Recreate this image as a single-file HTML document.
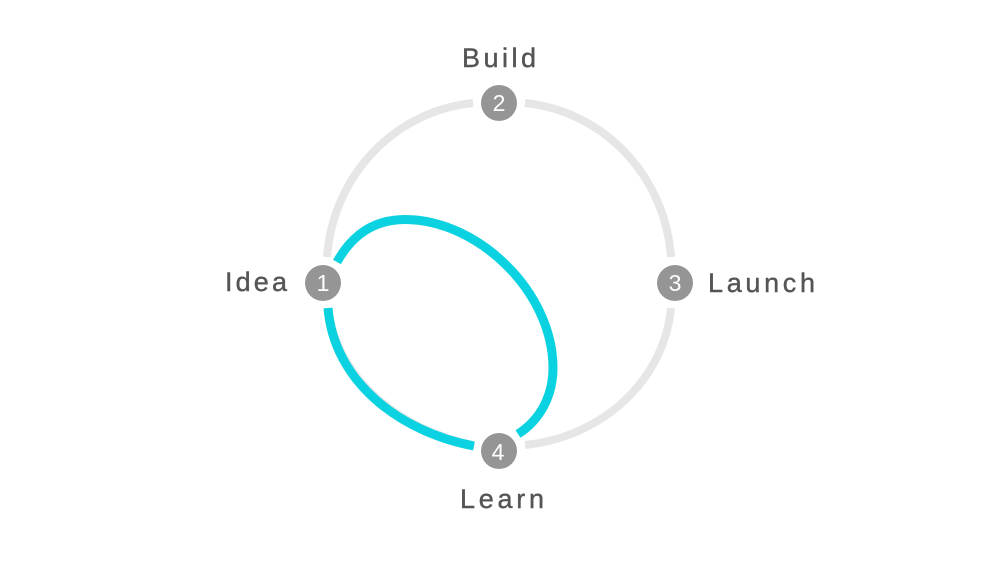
<!DOCTYPE html>
<html>
<head>
<meta charset="utf-8">
<style>
html,body{margin:0;padding:0;background:#fff;width:1000px;height:562px;overflow:hidden}
svg{display:block}
text{font-family:"Liberation Sans",sans-serif}
.l{font-size:27px;fill:#555;stroke:#555;stroke-width:.4px}
.n{font-size:23px;fill:#fff;text-anchor:middle}
</style>
</head>
<body>
<svg width="1000" height="562" viewBox="0 0 1000 562" xmlns="http://www.w3.org/2000/svg">
<g fill="none" stroke="#e6e6e6" stroke-width="8">
<path d="M473,103 C395,111 333,175 327,257"/>
<path d="M525,103 C603,111 665,175 671,257"/>
<path d="M671,308 C664,380 603,437 525,445"/>
<path d="M328,308 C337,380 400,430 473,445"/>
</g>
<g fill="none" stroke="#0bd2e0" stroke-width="9">
<path d="M328,308 C334,382 400,432 474,446"/>
<path d="M337,262 C353,233 376,219.5 405,219.5 C478,219.5 553,292 553,368 C553,396 540,420 518,434"/>
</g>
<g fill="#959595">
<circle cx="323" cy="283" r="18"/>
<circle cx="499" cy="103" r="18"/>
<circle cx="675" cy="283" r="18"/>
<circle cx="499" cy="451" r="18"/>
</g>
<text class="n" x="323" y="291">1</text>
<text class="n" x="499" y="111">2</text>
<text class="n" x="675" y="291">3</text>
<text class="n" x="498" y="460">4</text>
<text class="l" x="225" y="291" textLength="62" lengthAdjust="spacing">Idea</text>
<text class="l" x="462" y="67" textLength="74" lengthAdjust="spacing">Build</text>
<text class="l" x="708" y="292" textLength="107" lengthAdjust="spacing">Launch</text>
<text class="l" x="460" y="508" textLength="84" lengthAdjust="spacing">Learn</text>
</svg>
</body>
</html>
